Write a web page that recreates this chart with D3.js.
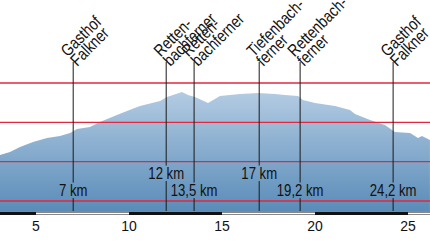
<!DOCTYPE html>
<html>
<head>
<meta charset="utf-8">
<script src="https://cdn.jsdelivr.net/npm/d3@7"></script>
<style>
  html, body { margin: 0; padding: 0; background: #fff; }
  svg { display: block; }
  .name { font-family: "Liberation Sans", Arial, sans-serif; font-size: 17px; fill: #111; }
  .km { font-family: "Liberation Sans", Arial, sans-serif; font-size: 16px; fill: #111; }
  .tick { font-family: "Liberation Sans", Arial, sans-serif; font-size: 14px; fill: #111; }
</style>
</head>
<body>
<svg id="chart" width="430" height="241"></svg>
<script>
// profile (km along the road, elevation in m)
const profileKm = [3.06, 3.6, 4.14, 4.84, 5.59, 6.29, 6.83, 7.2, 7.9, 8.44, 9.35, 9.89, 10.59,
  11.67, 12.04, 12.85, 13.17, 13.55, 14.25, 14.89, 15.97, 16.94, 17.85, 18.39, 19.09, 19.35,
  20.0, 21.08, 21.88, 22.15, 22.96, 23.76, 24.3, 25.11, 25.54, 25.75, 26.18];
const profileElev = [2085, 2123, 2187, 2250, 2301, 2326, 2364, 2415, 2441, 2504, 2593, 2644, 2708,
  2771, 2822, 2886, 2847, 2822, 2746, 2835, 2860, 2873, 2860, 2847, 2835, 2784,
  2746, 2708, 2657, 2606, 2530, 2466, 2377, 2364, 2301, 2326, 2275];

const gridElev = [1500, 2000, 2500, 3000];
const tickKm = [5, 10, 15, 20, 25];
const segmentKm = [0, 5, 10, 15, 20, 25, 30];

const markerKm = [7, 12, 13.5, 17, 19.2, 24.2];
const markerNames = [
  ["Gasthof", "Falkner"],
  ["Retten-", "bachferner"],
  ["Retten-", "bachferner"],
  ["Tiefenbach-", "ferner"],
  ["Rettenbach-", "ferner"],
  ["Gasthof", "Falkner"]
];
const raisedKm = [12, 17];

const svg = d3.select("#chart");
const W = 430, H = 241;
const narrow = 0.82;   // squeeze to mimic the condensed face

const x = d3.scaleLinear().domain([5, 25]).range([36, 408]);
const y = d3.scaleLinear().domain([1373, 3000]).range([211, 83]);
const baseElev = 1373;
const lineTop = 62;

const defs = svg.append("defs");
function addGradient(id, offsetY) {
  const g = defs.append("linearGradient")
    .attr("id", id)
    .attr("gradientUnits", "userSpaceOnUse")
    .attr("x1", 0).attr("x2", 0)
    .attr("y1", y(2900) - offsetY).attr("y2", y(baseElev) - offsetY);
  g.append("stop").attr("offset", 0).attr("stop-color", "#b4cce3");
  g.append("stop").attr("offset", 1).attr("stop-color", "#5a8cb8");
}
addGradient("grad", 0);

const profile = profileKm.map((k, i) => ({ km: k, elev: profileElev[i] }));

const area = d3.area()
  .x(d => x(d.km))
  .y0(y(baseElev))
  .y1(d => y(d.elev));

svg.append("path")
  .datum(profile)
  .attr("d", area)
  .attr("fill", "url(#grad)");

// red grid lines
svg.append("g")
  .selectAll("line")
  .data(gridElev)
  .join("line")
  .attr("x1", 0).attr("x2", W)
  .attr("y1", d => y(d))
  .attr("y2", d => y(d))
  .attr("stroke", "#e0283e")
  .attr("stroke-width", 1.3);

const markers = markerKm.map((k, i) => ({
  km: k, name: markerNames[i], raised: raisedKm.includes(k),
  ly: raisedKm.includes(k) ? 173 : 190
}));

// marker lines
svg.append("g")
  .selectAll("line")
  .data(markers)
  .join("line")
  .attr("x1", d => x(d.km)).attr("x2", d => x(d.km))
  .attr("y1", lineTop).attr("y2", y(baseElev))
  .attr("stroke", "#1a1a1a")
  .attr("stroke-width", 1);

// km labels, with a patch of the profile behind them
[173, 190].forEach(ly => addGradient(`grad${ly}`, ly));

const kmLabel = svg.append("g")
  .selectAll("g")
  .data(markers)
  .join("g")
  .attr("transform", d => `translate(${x(d.km)},${d.ly}) scale(${narrow},1)`);

kmLabel.append("text")
  .attr("class", "km")
  .attr("text-anchor", "middle")
  .attr("dy", "0.36em")
  .text(d => `${String(d.km).replace(".", ",")} km`)
  .each(function (d) {
    const b = this.getBBox();
    d3.select(this.parentNode).insert("rect", "text")
      .attr("x", b.x - 1).attr("y", b.y + 1)
      .attr("width", b.width + 2).attr("height", b.height - 2)
      .attr("fill", `url(#grad${d.ly})`);
  });

// place names, rotated
const names = svg.append("g")
  .selectAll("text")
  .data(markers)
  .join("text")
  .attr("class", "name")
  .attr("transform", d => `translate(${x(d.km) + 4},${lineTop + 5}) rotate(-45) scale(${narrow},1)`);

names.append("tspan")
  .attr("x", 0).attr("y", -13.5)
  .text(d => d.name[0]);
names.append("tspan")
  .attr("x", 0).attr("y", 0)
  .text(d => d.name[1]);

// distance bar
const segs = d3.pairs(segmentKm);
svg.append("rect")
  .attr("x", 0).attr("y", 211.5)
  .attr("width", W).attr("height", 3.5)
  .attr("fill", "#111");
svg.append("g")
  .selectAll("rect")
  .data(segs.filter((d, i) => i % 2 === 1))
  .join("rect")
  .attr("x", d => x(d[0]))
  .attr("y", 212.5)
  .attr("width", d => x(d[1]) - x(d[0]))
  .attr("height", 2)
  .attr("fill", "#fff");

svg.append("g")
  .selectAll("text")
  .data(tickKm)
  .join("text")
  .attr("class", "tick")
  .attr("x", d => x(d))
  .attr("y", 231)
  .attr("text-anchor", "middle")
  .text(d => d);
</script>
</body>
</html>
